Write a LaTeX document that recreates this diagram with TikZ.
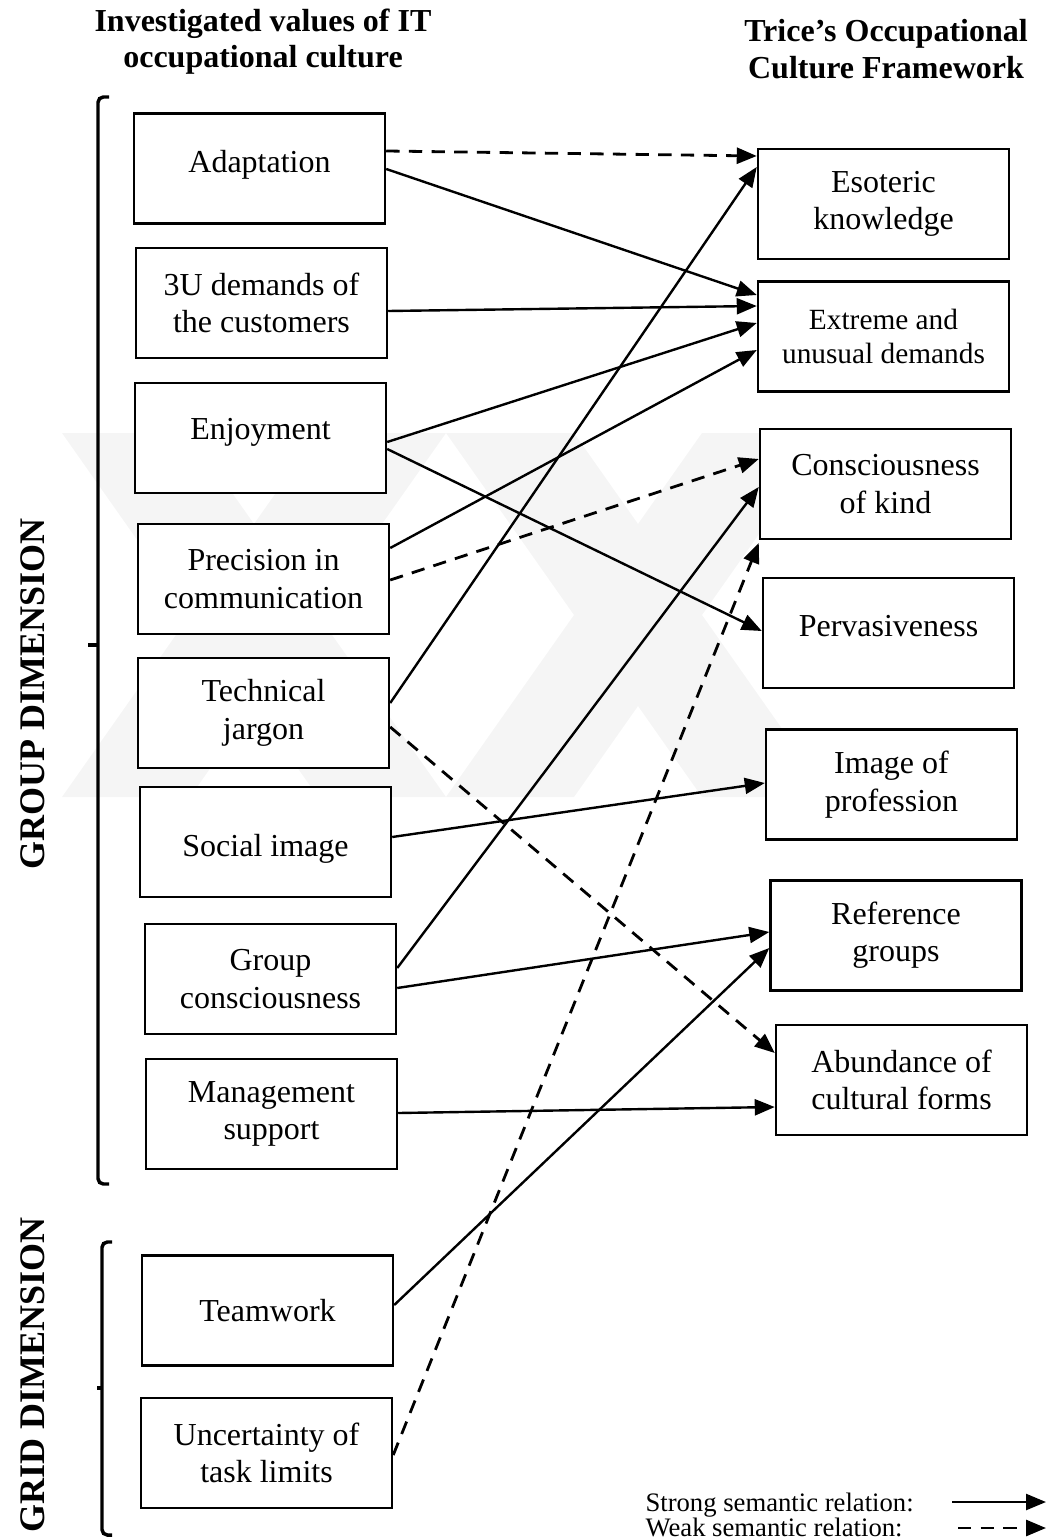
\documentclass[tikz,border=0pt]{standalone}
\usepackage{fontspec}
\setmainfont{Liberation Serif}
\usetikzlibrary{arrows.meta}

\begin{document}
\begin{tikzpicture}[x=0.375pt,y=-0.375pt,
  box/.style={draw, fill=white, line width=0.95pt, inner sep=0pt, align=center,
    minimum width=94.1pt, minimum height=41.25pt,
    font=\fontsize{12}{14}\selectfont},
  strong/.style={line width=0.9pt, -{Triangle[length=7.5pt,width=6pt]}},
  weak/.style={strong, line width=1.05pt, dash pattern=on 5pt off 3.5pt},
  head/.style={font=\fontsize{12}{13.6}\selectfont\bfseries, align=center},
  dimlabel/.style={font=\fontsize{13.5}{16}\selectfont\bfseries, rotate=90},
  bracket/.style={line width=1.3pt, rounded corners=2pt},
  legend/.style={font=\fontsize{10}{12}\selectfont, anchor=base west, inner sep=0pt}
]
\useasboundingbox (0,0) rectangle (1056,1540);

% faint background emblem
\begin{scope}[black!4]
  \fill (62,433) -- (190,433) -- (446,797) -- (318,797) -- cycle;
  \fill (318,433) -- (446,433) -- (190,797) -- (62,797) -- cycle;
  \fill (446,433) -- (574,433) -- (830,797) -- (702,797) -- cycle;
  \fill (702,433) -- (830,433) -- (574,797) -- (446,797) -- cycle;
\end{scope}

% column headings
\node[head] (hl) at (263,42) {Investigated values of IT\\occupational culture};
\node[head] (hr) at (886,49) {Trice’s Occupational\\Culture Framework};

% investigated values
\node[box, text depth=5.6pt] (adapt) at (259.5,168.5) {Adaptation};
\node[box] (u3)     at (261.5,303)   {3U demands of\\the customers};
\node[box, text depth=7.1pt] (enjoy) at (260.5,438) {Enjoyment};
\node[box] (prec)   at (263.5,579)   {Precision in\\communication};
\node[box] (tech)   at (263.5,713)   {Technical\\jargon};
\node[box, text height=13.2pt] (social) at (265.5,842) {Social image};
\node[box] (group)  at (270.5,979)   {Group\\consciousness};
\node[box] (mgmt)   at (271.5,1114)  {Management\\support};
\node[box] (team)   at (267.5,1310.5){Teamwork};
\node[box] (uncert) at (266.5,1453)  {Uncertainty of\\task limits};

% framework elements
\node[box] (esot)    at (883.5,204) {Esoteric\\knowledge};
\node[box, font=\fontsize{11}{12.4}\selectfont] (extreme) at (883.5,336.5) {Extreme and\\unusual demands};
\node[box] (consc)   at (885.5,484) {Consciousness\\of kind};
\node[box, text depth=5.2pt] (perv) at (888.5,633) {Pervasiveness};
\node[box] (image)   at (891.5,784.5) {Image of\\profession};
\node[box] (ref)     at (896,935.5)   {Reference\\groups};
\node[box] (abund)   at (901.5,1080)  {Abundance of\\cultural forms};

% dimension brackets
\draw[bracket] (109,97) -- (98,97) -- (98,1184) -- (109,1184);
\draw[line width=1.3pt] (88,645) -- (98,645);
\draw[bracket] (112,1242) -- (102,1242) -- (102,1535) -- (112,1535);
\draw[line width=1.3pt] (97,1388) -- (102,1388);
\node[dimlabel] (gdim) at (33,694) {GROUP DIMENSION};
\node[dimlabel] (rdim) at (33,1375) {GRID DIMENSION};

% strong relations
\draw[strong] (adapt.east |- 0,169) -- (extreme.west |- 0,295);
\draw[strong] (u3.east |- 0,311) -- (extreme.west |- 0,306);
\draw[strong] (enjoy.east |- 0,442) -- (extreme.west |- 0,323);
\draw[strong] (prec.east |- 0,548) -- (extreme.west |- 0,350);
\draw[strong] (tech.east |- 0,703) -- (esot.west |- 0,167);
\draw[strong] (enjoy.east |- 0,449) -- (perv.west |- 0,631);
\draw[strong] (group.east |- 0,968) -- (consc.west |- 0,487);
\draw[strong] (social.east |- 0,837) -- (image.west |- 0,783);
\draw[strong] (group.east |- 0,988) -- (ref.west |- 0,932);
\draw[strong] (mgmt.east |- 0,1113) -- (abund.west |- 0,1107);
\draw[strong] (team.east |- 0,1305) -- (ref.west |- 0,948);

% weak relations
\draw[weak] (adapt.east |- 0,151) -- (esot.west |- 0,156);
\draw[weak] (prec.east |- 0,580) -- (consc.west |- 0,459);
\draw[weak] (tech.east |- 0,727) -- (abund.west |- 0,1053);
\draw[weak] (uncert.east |- 0,1455) -- (consc.west |- 0,543);

% legend
\node[legend] (ls) at (645,1511) {Strong semantic relation:};
\node[legend] (lw) at (645,1536) {Weak semantic relation:};
\coordinate (ls1) at (952,1502);
\coordinate (ls2) at (1046,1502);
\coordinate (lw1) at (958,1528);
\coordinate (lw2) at (1046,1528);
\draw[strong] (ls1) -- (ls2);
\draw[weak] (lw1) -- (lw2);
\end{tikzpicture}
\end{document}
